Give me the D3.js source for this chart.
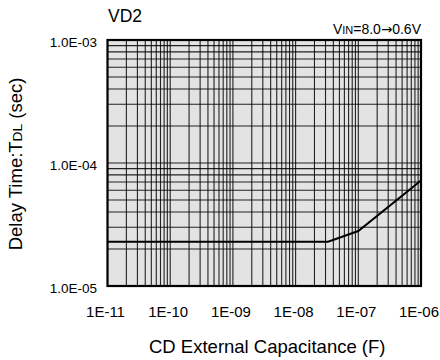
<!DOCTYPE html>
<html><head><meta charset="utf-8">
<script src="https://cdn.jsdelivr.net/npm/d3@7"></script>
<style>body{margin:0;background:#fff}text{font-family:"Liberation Sans",Arial,sans-serif;fill:#000}</style>
</head><body><svg id="c" width="440" height="360"></svg>
<script>
const xDomain = [1e-11, 1e-6];
const yDomain = [1e-5, 1e-3];
const xTickValues = [1e-11, 1e-10, 1e-9, 1e-8, 1e-7, 1e-6];
const xTickLabels = ["1E-11", "1E-10", "1E-09", "1E-08", "1E-07", "1E-06"];
const yTickValues = [1e-5, 1e-4, 1e-3];
const yTickLabels = ["1.0E-05", "1.0E-04", "1.0E-03"];
const capValues = [1e-11, 3.3e-8, 1e-7, 1e-6];
const delayValues = [2.29e-5, 2.29e-5, 2.8e-5, 7.2e-5];

const svg = d3.select("#c");
const m = {l: 107.5, r: 421, t: 40, b: 286};
const x = d3.scaleLog().domain(xDomain).range([m.l, m.r]);
const y = d3.scaleLog().domain(yDomain).range([m.b, m.t]);

svg.append("rect").attr("x", m.l).attr("y", m.t).attr("width", m.r - m.l).attr("height", m.b - m.t).attr("fill", "#e3e3e3");

const minor = (dom) => {
  const out = [];
  for (let e = Math.round(Math.log10(dom[0])); e < Math.round(Math.log10(dom[1])); e++)
    for (let k = 1; k <= 9; k++) out.push(k * Math.pow(10, e));
  return out.concat([dom[1]]);
};
const g = svg.append("g");
g.selectAll("line.vx").data(minor(xDomain)).enter().append("line")
  .attr("x1", d => x(d)).attr("x2", d => x(d)).attr("y1", m.t).attr("y2", m.b)
  .attr("stroke", "#000").attr("stroke-width", 1.1).attr("stroke-opacity", 0.85);
g.selectAll("line.hy").data(minor(yDomain)).enter().append("line")
  .attr("y1", d => y(d)).attr("y2", d => y(d)).attr("x1", m.l).attr("x2", m.r)
  .attr("stroke", "#000").attr("stroke-width", 1.1).attr("stroke-opacity", 0.85);

svg.append("path").datum(capValues.map((c, i) => [c, delayValues[i]]))
  .attr("d", d3.line().x(d => x(d[0])).y(d => y(d[1])))
  .attr("fill", "none").attr("stroke", "#000").attr("stroke-width", 2);

svg.append("rect").attr("x", m.l).attr("y", m.t).attr("width", m.r - m.l).attr("height", m.b - m.t)
  .attr("fill", "none").attr("stroke", "#000").attr("stroke-width", 2.2);

const xa = svg.append("g").attr("transform", `translate(0,${m.b})`)
  .call(d3.axisBottom(x).tickValues(xTickValues).tickFormat((d, i) => xTickLabels[i]).tickSize(0).tickPadding(20.5));
xa.select(".domain").remove();
xa.selectAll("text").attr("font-size", 15).attr("dx", -2.5).style("font-family", "Liberation Sans, Arial, sans-serif");

const ya = svg.append("g").attr("transform", `translate(${m.l},0)`)
  .call(d3.axisLeft(y).tickValues(yTickValues).tickFormat((d, i) => yTickLabels[i]).tickSize(0).tickPadding(10.5));
ya.select(".domain").remove();
ya.selectAll("text").attr("font-size", 13.5).attr("dy", "0.47em").style("font-family", "Liberation Sans, Arial, sans-serif");

svg.append("text").attr("x", 108).attr("y", 21.7).attr("font-size", 17.5).text("VD2");

const vin = svg.append("text").attr("x", 421).attr("y", 34.3).attr("text-anchor", "end").attr("font-size", 14);
vin.append("tspan").text("V");
vin.append("tspan").attr("font-size", 11).text("IN");
vin.append("tspan").text("=8.0");
vin.append("tspan").style("font-family", "DejaVu Sans").attr("font-size", 13.5).text("\u2192");
vin.append("tspan").text("0.6V");

svg.append("text").attr("x", (m.l + m.r) / 2 + 3).attr("y", 352.5).attr("text-anchor", "middle").attr("font-size", 18.5)
  .text("CD External Capacitance (F)");

const yt = svg.append("text").attr("transform", `translate(22,${(m.t + m.b) / 2 + 1}) rotate(-90)`)
  .attr("text-anchor", "middle").attr("font-size", 18.5);
yt.append("tspan").text("Delay Time:T");
yt.append("tspan").attr("font-size", 13.7).text("DL");
yt.append("tspan").text(" (sec)");
</script></body></html>
